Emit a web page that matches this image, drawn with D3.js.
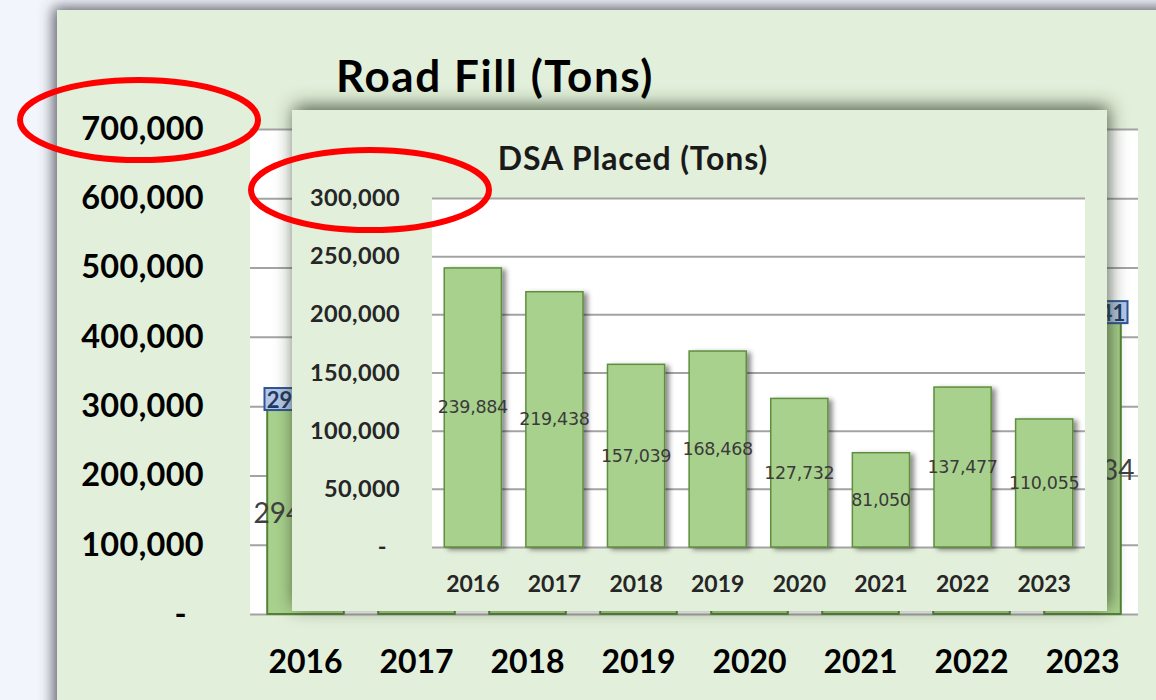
<!DOCTYPE html>
<html>
<head>
<meta charset="utf-8">
<script src="https://cdn.jsdelivr.net/npm/d3@7"></script>
<style>
  html, body { margin: 0; padding: 0; background: #f2f5fb; }
  svg { display: block; }
</style>
</head>
<body>
<svg id="chart" width="1156" height="700"></svg>
<script>
// ---------- data ----------
const years = ["2016", "2017", "2018", "2019", "2020", "2021", "2022", "2023"];
// Background chart (mostly hidden behind the inset)
const roadFill = [294400, 330000, 360000, 380000, 330000, 280000, 390000, 419834];
const roadFillTotal = [296012, 331500, 361200, 381400, 331300, 281100, 391600, 420341];
const roadFillTicks = [0, 100000, 200000, 300000, 400000, 500000, 600000, 700000];
// Inset chart
const dsaPlaced = [239884, 219438, 157039, 168468, 127732, 81050, 137477, 110055];
const dsaTicks = [0, 50000, 100000, 150000, 200000, 250000, 300000];

const fmt = d3.format(",");
const svg = d3.select("#chart");
const defs = svg.append("defs");

// Inset placement
const insetBox = { x: 292, y: 110, w: 815, h: 501 };

defs.append("filter").attr("id", "panelShadow")
  .attr("x", "-10%").attr("y", "-10%").attr("width", "120%").attr("height", "120%")
  .append("feDropShadow").attr("dx", -4).attr("dy", -3).attr("stdDeviation", 7)
  .attr("flood-color", "#474955").attr("flood-opacity", 0.85);

defs.append("filter").attr("id", "insetShadow")
  .attr("x", "-10%").attr("y", "-15%").attr("width", "120%").attr("height", "130%")
  .append("feDropShadow").attr("dx", 2).attr("dy", -4).attr("stdDeviation", 9)
  .attr("flood-color", "#2f3d27").attr("flood-opacity", 0.8);

defs.append("filter").attr("id", "barShadow")
  .attr("x", "-20%").attr("y", "-10%").attr("width", "150%").attr("height", "120%")
  .append("feDropShadow").attr("dx", 4).attr("dy", 2).attr("stdDeviation", 2.5)
  .attr("flood-color", "#000").attr("flood-opacity", 0.45);

// clip that removes the part of the background labels hidden by the inset
defs.append("clipPath").attr("id", "outsideInset")
  .append("path").attr("clip-rule", "evenodd")
  .attr("d", `M0,0H1156V700H0Z M${insetBox.x},${insetBox.y}h${insetBox.w}v${insetBox.h}h${-insetBox.w}Z`);

// ---------- outer panel ----------
svg.append("rect").attr("x", 57).attr("y", 10).attr("width", 1156).attr("height", 720)
  .attr("fill", "#e2efda").attr("filter", "url(#panelShadow)");

// ---------- background chart: Road Fill ----------
const bx = d3.scaleBand().domain(years).range([250, 1138]).paddingInner(0.31).paddingOuter(0.155);
const by = d3.scaleLinear().domain([0, 700000]).range([614, 129]);

svg.append("rect").attr("x", 250).attr("y", 129).attr("width", 888).attr("height", 485).attr("fill", "#ffffff");

const bgGrid = svg.append("g")
  .attr("transform", "translate(250,0)")
  .call(d3.axisLeft(by).tickValues(roadFillTicks).tickSize(-888).tickFormat(""));
bgGrid.select(".domain").remove();
bgGrid.selectAll("line").attr("stroke", "#a3a3a3").attr("stroke-width", 2);

const bgYAxis = svg.append("g")
  .attr("transform", "translate(204,0)")
  .call(d3.axisLeft(by).tickValues(roadFillTicks).tickSize(0).tickPadding(0)
    .tickFormat(d => d === 0 ? "-" : fmt(d)));
bgYAxis.select(".domain").remove();
bgYAxis.selectAll("text")
  .attr("font-family", "Lato, 'Open Sans', sans-serif").attr("font-weight", "bold")
  .attr("font-size", 32.5).attr("letter-spacing", 0.3).attr("fill", "#000").attr("text-anchor", "end")
  .attr("dx", d => d === 0 ? -17 : 0);

const bgXAxis = svg.append("g")
  .attr("transform", "translate(0,614)")
  .call(d3.axisBottom(bx).tickSize(0).tickPadding(0));
bgXAxis.select(".domain").remove();
bgXAxis.selectAll("text")
  .attr("font-family", "Lato, 'Open Sans', sans-serif").attr("font-weight", "bold")
  .attr("font-size", 32).attr("fill", "#000").attr("dy", 0).attr("y", 59);

svg.append("g").selectAll("rect").data(years).join("rect")
  .attr("x", d => bx(d)).attr("width", bx.bandwidth())
  .attr("y", (d, i) => by(roadFill[i])).attr("height", (d, i) => by(0) - by(roadFill[i]))
  .attr("fill", "#a9d18e").attr("stroke", "#548235").attr("stroke-width", 2);

// skip background labels that are fully covered by the inset
const coveredByInset = (x0, x1) => x0 >= insetBox.x && x1 <= insetBox.x + insetBox.w;
const midW = 94;
const visIdx = years.map((d, i) => i).filter(i => {
  const c = bx(years[i]) + bx.bandwidth() / 2;
  return !coveredByInset(c - midW / 2, c + midW / 2);
});

const bgLabels = svg.append("g").attr("clip-path", "url(#outsideInset)");

bgLabels.append("g").selectAll("text").data(visIdx).join("text")
  .attr("x", i => bx(years[i]) + bx.bandwidth() / 2)
  .attr("y", i => (by(roadFill[i]) + by(0)) / 2)
  .attr("dominant-baseline", "central").attr("text-anchor", "middle")
  .attr("font-family", "Lato, 'Open Sans', sans-serif").attr("font-size", 28)
  .attr("fill", "#404040").text(i => fmt(roadFill[i]));

const boxW = 86, boxH = 22;
const totG = bgLabels.append("g").selectAll("g").data(visIdx).join("g");
totG.append("rect")
  .attr("x", i => bx(years[i]) + bx.bandwidth() / 2 - boxW / 2 + 2)
  .attr("y", i => by(roadFill[i]) - boxH)
  .attr("width", boxW).attr("height", boxH)
  .attr("fill", "#b4c7e7").attr("stroke", "#2f5597").attr("stroke-width", 2);
totG.append("text")
  .attr("x", i => bx(years[i]) + bx.bandwidth() / 2 + 2)
  .attr("y", i => by(roadFill[i]) - boxH / 2)
  .attr("dominant-baseline", "central").attr("text-anchor", "middle")
  .attr("font-family", "Lato, 'Open Sans', sans-serif").attr("font-weight", "bold").attr("font-size", 22)
  .attr("fill", "#1f3864").text(i => fmt(roadFillTotal[i]));

svg.append("text").attr("x", 495).attr("y", 92).attr("text-anchor", "middle")
  .attr("font-family", "Lato, 'Open Sans', sans-serif").attr("font-weight", "bold")
  .attr("font-size", 44).attr("letter-spacing", 1.6).attr("fill", "#000").text("Road Fill (Tons)");

// ---------- inset chart: DSA Placed ----------
const inset = svg.append("g");
inset.append("rect").attr("x", insetBox.x).attr("y", insetBox.y).attr("width", insetBox.w).attr("height", insetBox.h)
  .attr("fill", "#e2efda").attr("filter", "url(#insetShadow)");

const ix = d3.scaleBand().domain(years).range([432, 1085]).paddingInner(0.3).paddingOuter(0.15);
const iy = d3.scaleLinear().domain([0, 300000]).range([547, 198]);

inset.append("rect").attr("x", 432).attr("y", 198).attr("width", 653).attr("height", 349).attr("fill", "#ffffff");

const inGrid = inset.append("g")
  .attr("transform", "translate(432,0)")
  .call(d3.axisLeft(iy).tickValues(dsaTicks).tickSize(-653).tickFormat(""));
inGrid.select(".domain").remove();
inGrid.selectAll("line").attr("stroke", "#a3a3a3").attr("stroke-width", 2);

const inYAxis = inset.append("g")
  .attr("transform", "translate(400,0)")
  .call(d3.axisLeft(iy).tickValues(dsaTicks).tickSize(0).tickPadding(0)
    .tickFormat(d => d === 0 ? "-" : fmt(d)));
inYAxis.select(".domain").remove();
inYAxis.selectAll("text")
  .attr("font-family", "Lato, 'Open Sans', sans-serif").attr("font-weight", "bold")
  .attr("font-size", 23.5).attr("letter-spacing", 0.4).attr("fill", "#262626").attr("text-anchor", "end")
  .attr("dx", d => d === 0 ? -13 : 0);

const inXAxis = inset.append("g")
  .attr("transform", "translate(0,547)")
  .call(d3.axisBottom(ix).tickSize(0).tickPadding(0));
inXAxis.select(".domain").remove();
inXAxis.selectAll("text")
  .attr("font-family", "Lato, 'Open Sans', sans-serif").attr("font-weight", "bold")
  .attr("font-size", 23).attr("fill", "#262626").attr("dy", 0).attr("y", 45);

inset.append("g").selectAll("rect").data(years).join("rect")
  .attr("x", d => ix(d)).attr("width", ix.bandwidth())
  .attr("y", (d, i) => iy(dsaPlaced[i])).attr("height", (d, i) => iy(0) - iy(dsaPlaced[i]))
  .attr("fill", "#a9d18e").attr("stroke", "#5f8f3e").attr("stroke-width", 1.5)
  .attr("filter", "url(#barShadow)");

inset.append("g").selectAll("text").data(years).join("text")
  .attr("x", d => ix(d) + ix.bandwidth() / 2)
  .attr("y", (d, i) => (iy(dsaPlaced[i]) + iy(0)) / 2)
  .attr("dominant-baseline", "central").attr("text-anchor", "middle")
  .attr("font-family", "'DejaVu Sans', sans-serif").attr("font-size", 17.5)
  .attr("letter-spacing", -0.3)
  .attr("fill", "#3a3a3a").text((d, i) => fmt(dsaPlaced[i]));

inset.append("text").attr("x", 633).attr("y", 170).attr("text-anchor", "middle")
  .attr("font-family", "Lato, 'Open Sans', sans-serif").attr("font-weight", "bold")
  .attr("font-size", 32).attr("letter-spacing", 0.9).attr("fill", "#1a1a1a").text("DSA Placed (Tons)");

// ---------- red highlight ellipses ----------
const ellipses = [
  { cx: 139, cy: 120, rx: 119, ry: 40 },
  { cx: 370, cy: 190, rx: 119, ry: 40 }
];
svg.append("g").selectAll("ellipse").data(ellipses).join("ellipse")
  .attr("cx", d => d.cx).attr("cy", d => d.cy).attr("rx", d => d.rx).attr("ry", d => d.ry)
  .attr("fill", "none").attr("stroke", "#ff0000").attr("stroke-width", 6);
</script>
</body>
</html>
